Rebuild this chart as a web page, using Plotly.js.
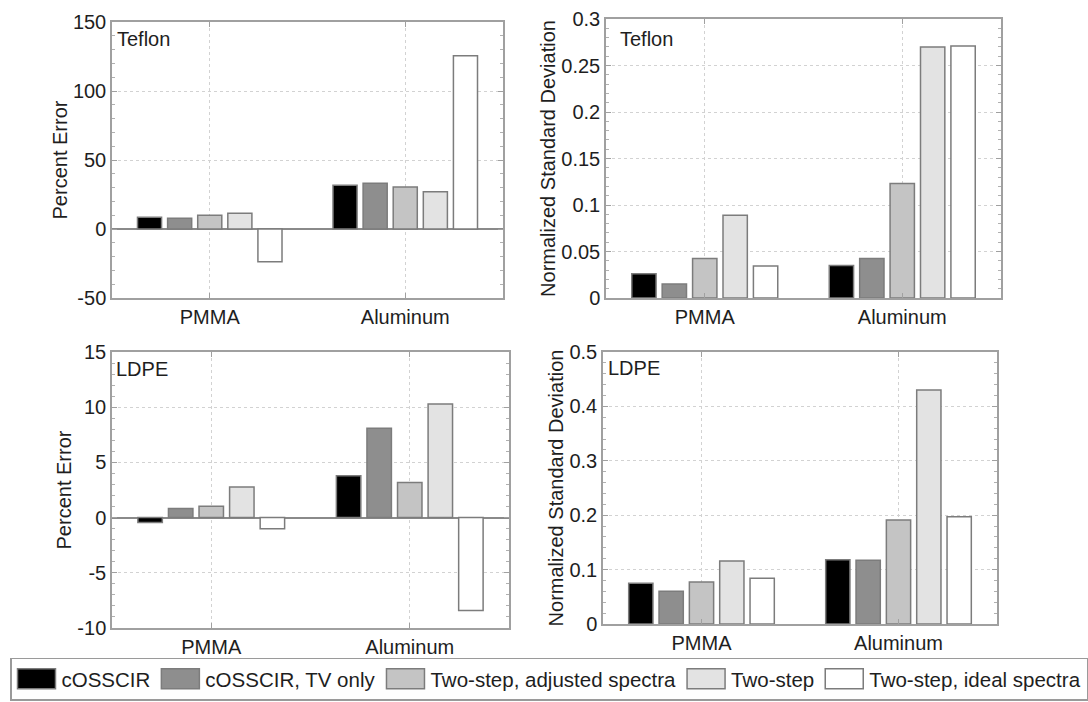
<!DOCTYPE html>
<html><head><meta charset="utf-8">
<script src="https://cdn.plot.ly/plotly-3.0.1.min.js"></script>
<style>html,body{margin:0;padding:0;background:#fff}#chart{width:1088px;height:702px}</style>
</head><body><div id="chart"></div>
<script>
// ---------- data ----------
const categories = ['PMMA', 'Aluminum'];
const seriesNames = ['cOSSCIR', 'cOSSCIR, TV only', 'Two-step, adjusted spectra', 'Two-step', 'Two-step, ideal spectra'];
const seriesColors = ['#000000', '#8e8e8e', '#c4c4c4', '#e3e3e3', '#ffffff'];

// values per series: [PMMA, Aluminum]
const teflonPercentError = [[8.5, 31.7], [7.7, 33.1], [9.9, 30.4], [11.4, 27.0], [-23.7, 125.6]];
const teflonNormStd      = [[0.026, 0.035], [0.015, 0.0425], [0.0425, 0.123], [0.089, 0.270], [0.0345, 0.271]];
const ldpePercentError   = [[-0.45, 3.78], [0.82, 8.1], [1.03, 3.18], [2.78, 10.29], [-1.0, -8.41]];
const ldpeNormStd        = [[0.075, 0.118], [0.060, 0.117], [0.077, 0.191], [0.116, 0.430], [0.084, 0.197]];

const teflonErrTicks = [-50, 0, 50, 100, 150];
const teflonErrTickText = ['-50', '0', '50', '100', '150'];
const teflonStdTicks = [0, 0.05, 0.1, 0.15, 0.2, 0.25, 0.3];
const teflonStdTickText = ['0', '0.05', '0.1', '0.15', '0.2', '0.25', '0.3'];
const ldpeErrTicks = [-10, -5, 0, 5, 10, 15];
const ldpeErrTickText = ['-10', '-5', '0', '5', '10', '15'];
const ldpeStdTicks = [0, 0.1, 0.2, 0.3, 0.4, 0.5];
const ldpeStdTickText = ['0', '0.1', '0.2', '0.3', '0.4', '0.5'];

// ---------- layout helpers ----------
const W = 1088, H = 702;
const FONT = '"Liberation Sans", Arial, Helvetica, sans-serif';
const TXT = '#1e1e1e';
const xd = (a, b) => [a / W, b / W];
const yd = (top, bottom) => [1 - bottom / H, 1 - top / H];

const panels = [
  {vals: teflonPercentError, sfx: '',  xdom: xd(112, 503), ydom: yd(22, 298),  range: [-50, 150], tv: teflonErrTicks, tt: teflonErrTickText, minor: 10, title: 'Percent Error', label: 'Teflon', lx: 0.008, ly: 0.985, zero: true, standoff: 0},
  {vals: teflonNormStd,      sfx: '2', xdom: xd(606, 1001), ydom: yd(19, 298), range: [0, 0.3], tv: teflonStdTicks, tt: teflonStdTickText, minor: 0.01, title: 'Normalized Standard Deviation', label: 'Teflon', lx: 0.03, ly: 0.975, zero: false, standoff: 0},
  {vals: ldpePercentError,   sfx: '3', xdom: xd(112, 509), ydom: yd(352, 628), range: [-10, 15], tv: ldpeErrTicks, tt: ldpeErrTickText, minor: 1, title: 'Percent Error', label: 'LDPE', lx: 0.006, ly: 0.985, zero: true, standoff: 0},
  {vals: ldpeNormStd,        sfx: '4', xdom: xd(603, 997), ydom: yd(352, 624), range: [0, 0.5], tv: ldpeStdTicks, tt: ldpeStdTickText, minor: 0.02, title: 'Normalized Standard Deviation', label: 'LDPE', lx: 0.008, ly: 0.99, zero: false, standoff: 0}
];

const traces = [];
const layout = {
  width: W, height: H,
  margin: {l: 0, r: 0, t: 0, b: 0, pad: 0},
  paper_bgcolor: '#ffffff', plot_bgcolor: '#ffffff',
  font: {family: FONT, size: 20, color: TXT},
  barmode: 'group', bargap: 0.23, bargroupgap: 0.2,
  showlegend: true,
  legend: {
    orientation: 'h', x: 10 / W, xanchor: 'left', y: 1.5 / H, yanchor: 'bottom',
    bgcolor: '#ffffff', bordercolor: '#9a9a9a', borderwidth: 1.5,
    font: {family: FONT, size: 20.5, color: TXT}, itemwidth: 40, traceorder: 'normal',
    itemclick: false, itemdoubleclick: false
  },
  annotations: []
};

panels.forEach((p, pi) => {
  const xn = 'x' + p.sfx, yn = 'y' + p.sfx;
  p.vals.forEach((v, si) => {
    traces.push({
      type: 'bar', x: categories, y: v, name: seriesNames[si],
      xaxis: xn, yaxis: yn, showlegend: pi === 0, legendgroup: seriesNames[si],
      marker: {color: seriesColors[si], line: {color: '#7c7c7c', width: 1.5}},
      hoverinfo: 'skip'
    });
  });
  layout['xaxis' + p.sfx] = {
    domain: p.xdom, anchor: yn, type: 'category', range: [-0.5, 1.5],
    showline: true, linecolor: '#a0a0a0', linewidth: 1.5, mirror: 'ticks',
    ticks: 'inside', ticklen: 5, tickcolor: '#a0a0a0',
    showgrid: true, gridcolor: '#d2d2d2', griddash: 'dot', gridwidth: 1,
    zeroline: false, tickfont: {size: 20, color: TXT}, fixedrange: true
  };
  layout['yaxis' + p.sfx] = {
    domain: p.ydom, anchor: xn, range: p.range, autorange: false,
    tickmode: 'array', tickvals: p.tv, ticktext: p.tt,
    showline: true, linecolor: '#a0a0a0', linewidth: 1.5, mirror: 'ticks',
    ticks: 'inside', ticklen: 5, tickcolor: '#a0a0a0',
    minor: {dtick: p.minor, ticks: 'inside', ticklen: 3, tickcolor: '#b0b0b0', showgrid: false},
    showgrid: true, gridcolor: '#d2d2d2', griddash: 'dot', gridwidth: 1,
    zeroline: p.zero, zerolinecolor: '#8a8a8a', zerolinewidth: 1.5,
    tickfont: {size: 20, color: TXT}, ticklabelstandoff: 0,
    title: {text: p.title, font: {size: 20, color: TXT}, standoff: p.standoff},
    fixedrange: true
  };
  layout.annotations.push({
    xref: xn + ' domain', yref: yn + ' domain', x: p.lx, y: p.ly,
    xanchor: 'left', yanchor: 'top', showarrow: false, text: p.label,
    font: {size: 20, color: TXT}
  });
});

function widenSwatches(gd) {
  // enlarge the legend swatches to the wide rectangles of the original
  gd.querySelectorAll('.legend .legendpoints path').forEach(el => {
    el.setAttribute('d', 'M19,10H-19V-10H19Z');
  });
}

const gdiv = document.getElementById('chart');
Plotly.newPlot(gdiv, traces, layout, {displayModeBar: false}).then(gd => {
  widenSwatches(gd);
  gd.on('plotly_afterplot', () => widenSwatches(gd));
  setTimeout(() => widenSwatches(gd), 50);
  setTimeout(() => widenSwatches(gd), 300);
});
</script>
</body></html>
